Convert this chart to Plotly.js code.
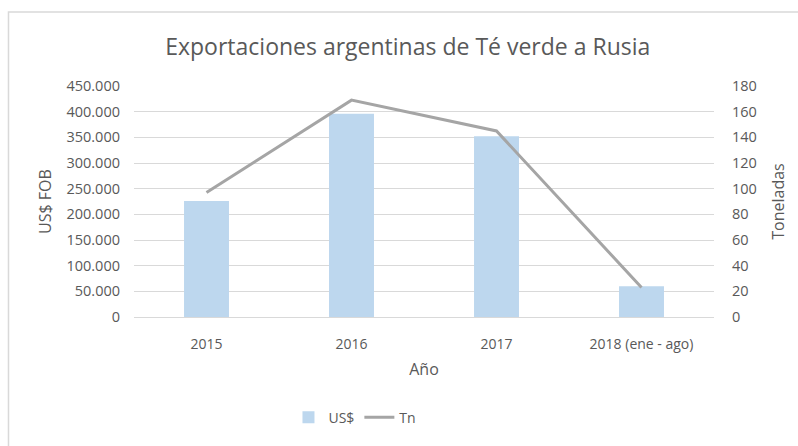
<!DOCTYPE html>
<html>
<head>
<meta charset="utf-8">
<script src="https://cdn.plot.ly/plotly-3.0.1.min.js"></script>
<style>html,body{margin:0;padding:0;background:#fff;}#chart{width:798px;height:446px;}</style>
</head>
<body>
<div id="chart"></div>
<script>
const categories = ["2015", "2016", "2017", "2018 (ene - ago)"];
const usdValues = [226000, 396000, 352000, 60000];
const tnValues = [97, 169, 145, 23];
const usdTicks = [0, 50000, 100000, 150000, 200000, 250000, 300000, 350000, 400000, 450000];
const tnTicks = [0, 20, 40, 60, 80, 100, 120, 140, 160, 180];

const fontFam = "'Open Sans', 'Noto Sans', sans-serif";
const txt = "#595959";

const traces = [
  {
    type: "bar", name: "US$", x: categories, y: usdValues,
    marker: {color: "#bdd7ee"}, width: 0.31, yaxis: "y"
  },
  {
    type: "scatter", mode: "lines", name: "Tn", x: categories, y: tnValues,
    line: {color: "#a5a5a5", width: 3}, yaxis: "y2"
  }
];

const layout = {
  width: 798, height: 446,
  margin: {l: 134, r: 84, t: 86, b: 126},
  paper_bgcolor: "#fff", plot_bgcolor: "#fff",
  separators: ",.",
  font: {family: fontFam, color: txt, size: 14},
  title: {text: "Exportaciones argentinas de Té verde a Rusia", font: {size: 23, color: txt, family: fontFam},
          x: 0.511, xref: "container", xanchor: "center", y: 0.895, yref: "container", yanchor: "middle"},
  xaxis: {
    type: "category", showgrid: false, showline: true, linecolor: "#d9d9d9", linewidth: 1,
    ticks: "", tickfont: {size: 14, color: txt}, ticklabelstandoff: 14,
    title: {text: "Año", font: {size: 16, color: txt}, standoff: 12}
  },
  yaxis: {
    range: [0, 450000], tickvals: usdTicks, tickformat: ",d",
    showgrid: true, gridcolor: "#d9d9d9", gridwidth: 1, zeroline: false,
    ticks: "", tickfont: {size: 14.5, color: txt}, ticklabelstandoff: 13,
    title: {text: "US$ FOB", font: {size: 16, color: txt}, standoff: 10}
  },
  yaxis2: {
    range: [0, 180], tickvals: tnTicks, overlaying: "y", side: "right",
    showgrid: false, zeroline: false, ticks: "", tickfont: {size: 14.5, color: txt}, ticklabelstandoff: 17,
    title: {text: "Toneladas", font: {size: 16, color: txt}, standoff: 16}
  },
  showlegend: true,
  legend: {orientation: "h", x: 0.381, xanchor: "center", y: -0.436, yanchor: "middle",
           font: {size: 14, color: txt}, traceorder: "normal", itemwidth: 30},
  shapes: [{type: "rect", xref: "paper", yref: "paper", x0: -0.2164, x1: 1.3, y0: -0.7, y1: 1.3205,
            line: {color: "#d9d9d9", width: 1.5}, fillcolor: "rgba(0,0,0,0)", layer: "below"}]
};

Plotly.newPlot("chart", traces, layout, {displayModeBar: false, staticPlot: true});
</script>
</body>
</html>
